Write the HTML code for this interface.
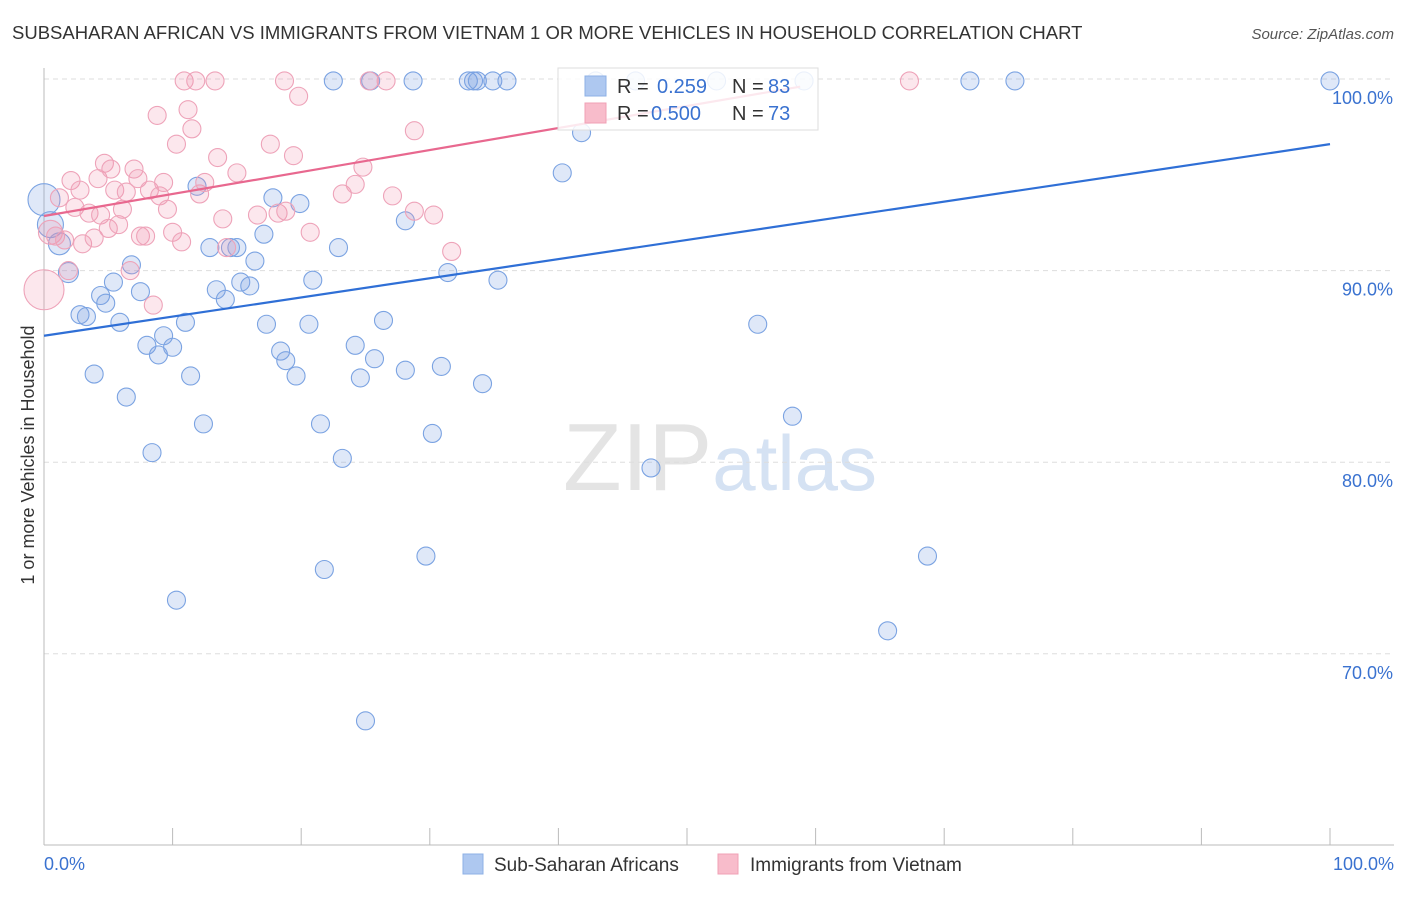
<!DOCTYPE html>
<html><head><meta charset="utf-8"><style>
body{margin:0;background:#fff;font-family:"Liberation Sans",sans-serif;}
svg text{font-family:"Liberation Sans",sans-serif;}
</style></head><body>
<svg id="chart" width="1406" height="892" xmlns="http://www.w3.org/2000/svg">
<text x="12" y="39" font-size="18.5" fill="#333">SUBSAHARAN AFRICAN VS IMMIGRANTS FROM VIETNAM 1 OR MORE VEHICLES IN HOUSEHOLD CORRELATION CHART</text>
<text x="1394" y="39" font-size="15" fill="#555" text-anchor="end" font-style="italic">Source: ZipAtlas.com</text>
<text x="720" y="490" font-size="96" text-anchor="middle" fill="#e4e4e4" font-family="Liberation Serif">ZIP<tspan fill="#d5e2f3" font-family="Liberation Sans" font-size="78">atlas</tspan></text>
<g id="grid"></g><g id="axes"></g><g id="pts"></g><g id="lines"></g>
<text transform="translate(34,455) rotate(-90)" font-size="18" fill="#333" text-anchor="middle">1 or more Vehicles in Household</text>
<g>
<rect x="558" y="68" width="260" height="62" fill="rgba(255,255,255,0.85)" stroke="#ddd"/>
<rect x="585" y="76" width="21" height="20" fill="#aec8f0" stroke="#8db0e6"/>
<text x="617" y="93" font-size="20" fill="#333">R = </text><text x="657" y="93" font-size="20" fill="#3a72d0">0.259</text>
<text x="732" y="93" font-size="20" fill="#333">N = </text><text x="768" y="93" font-size="20" fill="#3a72d0">83</text>
<rect x="585" y="103" width="21" height="20" fill="#f8bccb" stroke="#f0a0b6"/>
<text x="617" y="120" font-size="20" fill="#333">R = </text><text x="651" y="120" font-size="20" fill="#3a72d0">0.500</text>
<text x="732" y="120" font-size="20" fill="#333">N = </text><text x="768" y="120" font-size="20" fill="#3a72d0">73</text>
</g>
<g>
<rect x="463" y="854" width="20" height="20" fill="#aec8f0" stroke="#8db0e6"/>
<text x="494" y="871" font-size="19" fill="#333">Sub-Saharan Africans</text>
<rect x="718" y="854" width="20" height="20" fill="#f8bccb" stroke="#f0a0b6"/>
<text x="750" y="871" font-size="19" fill="#333">Immigrants from Vietnam</text>
</g>
</svg>
<script>
const yTicks=[100,90,80,70];
const yTickLabels=["100.0%","90.0%","80.0%","70.0%"];
const xTickLabels=["0.0%","100.0%"];
const blueX=[0,0.5,1.2,1.9,2.8,3.3,3.9,4.4,4.8,5.4,5.9,6.4,6.8,7.5,8.0,8.4,8.9,9.3,10.0,10.3,11.0,11.4,11.9,12.4,12.9,13.4,14.1,14.5,15.0,15.3,16.0,16.4,17.1,17.3,17.8,18.4,18.8,19.6,19.9,20.6,20.9,21.5,21.8,22.5,22.9,23.2,24.2,24.6,25.0,25.4,25.7,26.4,28.1,28.1,28.7,29.7,30.2,30.9,31.4,33.0,33.4,33.7,34.1,34.9,35.3,36.0,40.3,41.8,42.9,46.0,47.2,52.3,55.5,58.2,59.1,65.6,68.7,72.0,75.5,100];
const blueY=[93.7,92.4,91.4,89.9,87.7,87.6,84.6,88.7,88.3,89.4,87.3,83.4,90.3,88.9,86.1,80.5,85.6,86.6,86.0,72.8,87.3,84.5,94.4,82.0,91.2,89.0,88.5,91.2,91.2,89.4,89.2,90.5,91.9,87.2,93.8,85.8,85.3,84.5,93.5,87.2,89.5,82.0,74.4,99.9,91.2,80.2,86.1,84.4,66.5,99.9,85.4,87.4,92.6,84.8,99.9,75.1,81.5,85.0,89.9,99.9,99.9,99.9,84.1,99.9,89.5,99.9,95.1,97.2,99.9,99.9,79.7,99.9,87.2,82.4,99.9,71.2,75.1,99.9,99.9,99.9];
const blueR=[16,13,11,10];
const pinkX=[0,0.5,0.9,1.2,1.6,1.9,2.1,2.4,2.8,3.0,3.5,3.9,4.2,4.4,4.7,5.0,5.2,5.5,5.8,6.1,6.4,6.7,7.0,7.3,7.5,7.9,8.2,8.5,8.8,9.0,9.3,9.6,10.0,10.3,10.7,10.9,11.2,11.5,11.8,12.1,12.5,13.3,13.5,13.9,14.2,15.0,16.6,17.6,18.2,18.7,18.8,19.4,19.8,20.7,23.2,24.2,24.8,25.3,26.6,27.1,28.8,28.8,30.3,31.7,67.3];
const pinkY=[89.0,92.0,91.8,93.8,91.6,90.0,94.7,93.3,94.2,91.4,93.0,91.7,94.8,92.9,95.6,92.2,95.3,94.2,92.4,93.2,94.1,90.0,95.3,94.8,91.8,91.8,94.2,88.2,98.1,93.9,94.6,93.2,92.0,96.6,91.5,99.9,98.4,97.4,99.9,94.0,94.6,99.9,95.9,92.7,91.2,95.1,92.9,96.6,93.0,99.9,93.1,96.0,99.1,92.0,94.0,94.5,95.4,99.9,99.9,93.9,93.1,97.3,92.9,91.0,99.9];
const pinkBigR=[20,12];
const blueLine=[[0,86.6],[100,96.6]];
const pinkLine=[[0,92.85],[58.8,99.6]];
const X0=44,X1=1330,Y100=79,PX10=191.6;
const sx=v=>X0+(X1-X0)*v/100;
const sy=v=>Y100+(100-v)*PX10/10;
const NS="http://www.w3.org/2000/svg";
function mk(tag,attrs,parent){const e=document.createElementNS(NS,tag);for(const k in attrs)e.setAttribute(k,attrs[k]);document.getElementById(parent).appendChild(e);return e;}
yTicks.forEach((t,i)=>{
  const g=mk('line',{x1:44,x2:1394,y1:sy(t),y2:sy(t),stroke:'#ddd','stroke-dasharray':'5,4'},'grid');
  
  
  const l=mk('text',{x:1393,y:sy(t)+25,'font-size':18,fill:'#3a72d0','text-anchor':'end'},'axes');
  l.textContent=yTickLabels[i];
  
  
});
const ax=mk('line',{x1:44,x2:1394,y1:845,y2:845,stroke:'#bbb'},'axes');


const ay=mk('line',{x1:44,x2:44,y1:68,y2:845,stroke:'#bbb'},'axes');


for(let i=0;i<=10;i++){
  const t=mk('line',{x1:sx(i*10),x2:sx(i*10),y1:828,y2:845,stroke:'#bbb'},'axes');
  
  
}
xTickLabels.forEach((s,i)=>{
  const l=mk('text',{x:i?1394:44,y:870,'font-size':18,fill:'#3a72d0','text-anchor':i?'end':'start'},'axes');
  l.textContent=s;
  
  
});
blueX.forEach((x,i)=>{
  const c=mk('circle',{cx:sx(x),cy:sy(blueY[i]),r:blueR[i]||9,fill:'rgba(120,160,225,0.24)',stroke:'#7ba3e2','stroke-width':1.1},'pts');
  
  
});
pinkX.forEach((x,i)=>{
  const c=mk('circle',{cx:sx(x),cy:sy(pinkY[i]),r:pinkBigR[i]||9,fill:'rgba(240,145,175,0.22)',stroke:'#eea3b9','stroke-width':1.1},'pts');
  
  
});
const bl=mk('line',{x1:sx(blueLine[0][0]),y1:sy(blueLine[0][1]),x2:sx(blueLine[1][0]),y2:sy(blueLine[1][1]),stroke:'#2f6fd6','stroke-width':2.2},'lines');


const pl=mk('line',{x1:sx(pinkLine[0][0]),y1:sy(pinkLine[0][1]),x2:sx(pinkLine[1][0]),y2:sy(pinkLine[1][1]),stroke:'#e8688f','stroke-width':2.2},'lines');


</script>
</body></html>
